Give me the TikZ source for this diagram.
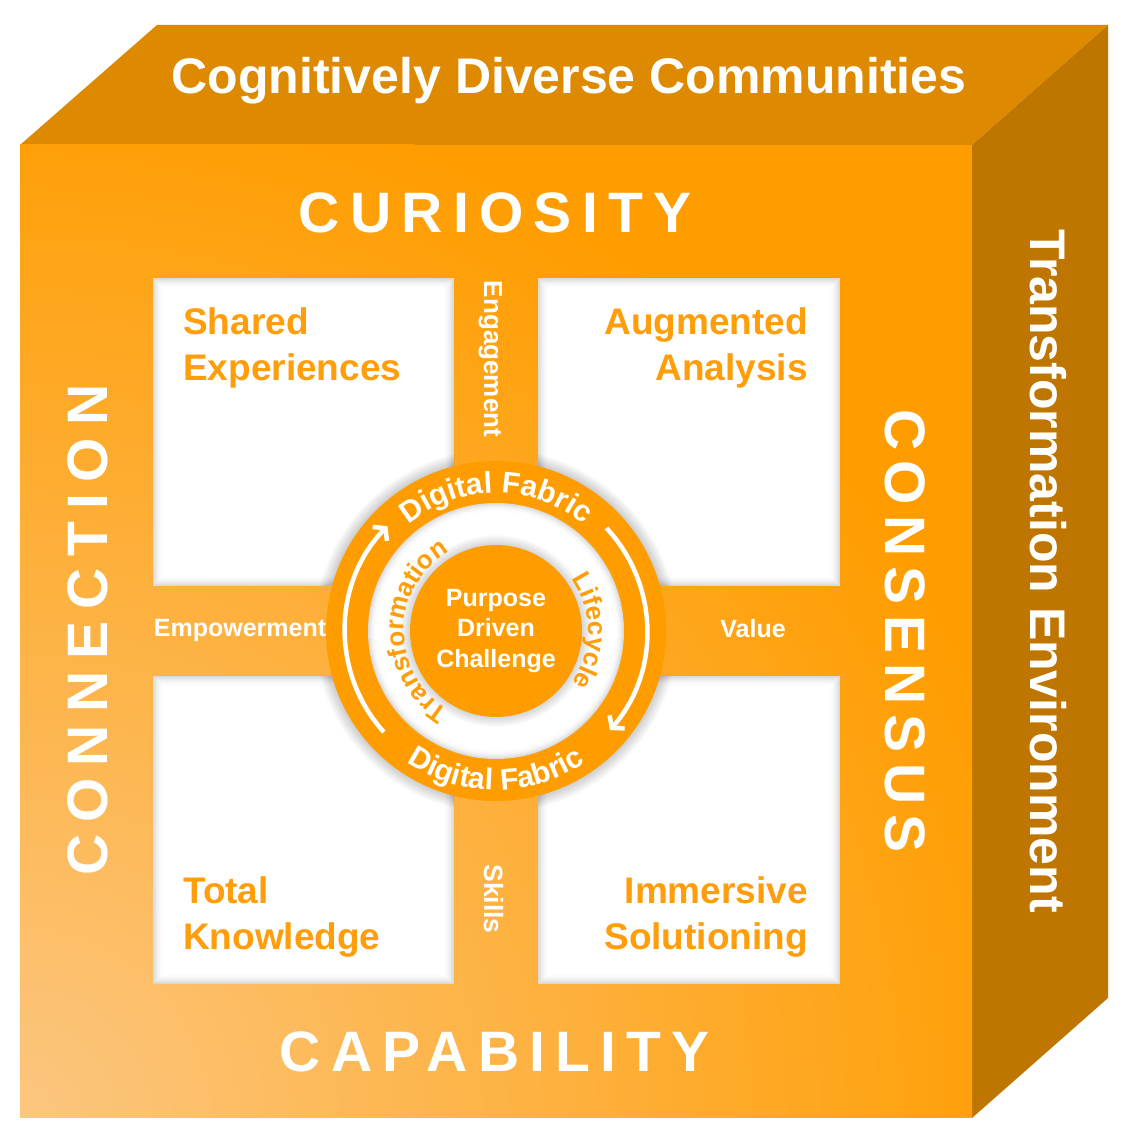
\documentclass[tikz,border=0pt]{standalone}
\usepackage{fontspec}
\setmainfont{Liberation Sans}
\usetikzlibrary{decorations.text,arrows.meta,calc}
\definecolor{orng}{HTML}{FF9D00}
\definecolor{orlight}{HTML}{FCC680}
\definecolor{topc}{HTML}{DE8A00}
\definecolor{sidec}{HTML}{BF7600}
\definecolor{lbl}{HTML}{FF9D0A}
\newcommand\arcfont{\fontsize{30}{33}\selectfont\bfseries}
\newcommand\ringfont{\fontsize{26}{29}\selectfont\bfseries}
\newcommand\softsq[4]{%
  \fill[black!15] (#1,#2) rectangle (#3,#4);
  \foreach \k in {1,...,10}{%
    \pgfmathsetmacro\cc{15*(1-\k/11)^2}%
    \fill[black!\cc] (#1+\k,#2+\k) rectangle (#3-\k,#4-\k);}%
}
\begin{document}
\begin{tikzpicture}[x=1pt,y=1pt,
  sqlabel/.style={text=lbl, font=\fontsize{37}{46}\selectfont\bfseries, inner sep=0pt},
  bigword/.style={text=white, font=\fontsize{57}{60}\selectfont\bfseries\addfontfeature{LetterSpace=18}, inner sep=0pt},
  bandlabel/.style={text=white, font=\fontsize{25}{28}\selectfont\bfseries, inner sep=0pt},
  facelabel/.style={text=white, font=\fontsize{50}{55}\selectfont\bfseries, inner sep=0pt},
  centerlabel/.style={text=white, font=\fontsize{25}{30.5}\selectfont\bfseries, inner sep=0pt, align=center},
  cycarrow/.style={white, line width=4.5pt, -{Straight Barb[length=8pt,width=20pt,line width=4.5pt]}},
  arctext/.style={decorate, decoration={text along path, text align=center, text={#1}}},
]
\useasboundingbox (0,0) rectangle (1128,1137);
\fill[white] (0,0) rectangle (1128,1137);

% cube faces
\fill[topc] (20,992) -- (157,1112) -- (1108,1112) -- (972,992) -- cycle;
\fill[sidec] (972,992) -- (1108,1112) -- (1108,139) -- (972,19) -- cycle;
\begin{scope}
  \clip (20,19) rectangle (972,992);
  \fill[orng] (20,19) rectangle (972,992);
  \shade[inner color=orlight, outer color=orng] (20,19) circle (1050pt);
\end{scope}

% white squares with inner shadow
\softsq{153}{551}{454}{859}
\softsq{538}{551}{840}{859}
\softsq{153}{153}{454}{461}
\softsq{538}{153}{840}{461}

\coordinate (C) at (496,506);

% soft halo of the ring on the squares
\begin{scope}
  \clip (153,551) rectangle (454,859) (538,551) rectangle (840,859)
        (153,153) rectangle (454,461) (538,153) rectangle (840,461);
  \foreach \k in {12,...,1}{\pgfmathsetmacro\rr{170+\k}\fill[black, fill opacity=0.014] (C) circle (\rr pt);}
\end{scope}

% ring
\fill[orng] (C) circle (170pt);
\foreach \k in {0,...,8}{%
  \pgfmathsetmacro\cc{14*(1-\k/9)^2}%
  \pgfmathsetmacro\rr{128-\k}%
  \fill[black!\cc] (C) circle (\rr pt);}
\fill[white] (C) circle (119pt);
\foreach \k in {10,...,1}{\pgfmathsetmacro\rr{86+\k}\fill[black, fill opacity=0.015] (C) circle (\rr pt);}
\fill[orng] (C) circle (86pt);

% cycle arrows
\draw[cycarrow] ($(C)+(222:151pt)$) arc[start angle=222, end angle=136, radius=151pt];
\draw[cycarrow] ($(C)+(43:151pt)$) arc[start angle=43, end angle=-41, radius=151pt];

% texts along the rings
\path[arctext={|\arcfont\color{white}|Digital Fabric}]
  ($(C)+(150:138pt)$) arc[start angle=150, end angle=30, radius=138pt];
\path[arctext={|\arcfont\color{white}|Digital Fabric}]
  ($(C)+(205:159pt)$) arc[start angle=205, end angle=335, radius=159pt];
\path[arctext={|\ringfont\color{lbl}|Transformation}]
  ($(C)+(255:92pt)$) arc[start angle=255, end angle=105, radius=92pt];
\path[arctext={|\ringfont\color{lbl}|Lifecycle}]
  ($(C)+(50:92pt)$) arc[start angle=50, end angle=-50, radius=92pt];

% centre
\node[centerlabel] (pdc) at (C) {Purpose\\Driven\\Challenge};

% square labels (anchor on the baseline of the last line)
\node[sqlabel, align=left, anchor=base west] (shared) at (183,756) {Shared\\Experiences};
\node[sqlabel, align=right, anchor=base east] (augm) at (808,756) {Augmented\\Analysis};
\node[sqlabel, align=left, anchor=base west] (total) at (183,187) {Total\\Knowledge};
\node[sqlabel, align=right, anchor=base east] (immer) at (808,187) {Immersive\\Solutioning};

% band labels
\node[bandlabel, font=\fontsize{26}{28}\selectfont\bfseries, rotate=-90, anchor=base] (engage) at (484,778) {Engagement};
\node[bandlabel, font=\fontsize{26.5}{28}\selectfont\bfseries, rotate=-90, anchor=base] (skills) at (484,238) {Skills};
\node[bandlabel, anchor=base] (empower) at (240,500) {Empowerment};
\node[bandlabel, anchor=base] (value) at (753,499) {Value};

% big words
\node[bigword, anchor=base] (curio) at (495,904) {CURIOSITY};
\node[bigword, anchor=base] (capab) at (495,65) {CAPABILITY};
\node[bigword, font=\fontsize{57}{60}\selectfont\bfseries\addfontfeature{LetterSpace=21}, rotate=90, anchor=base] (conn) at (107,507) {CONNECTION};
\node[bigword, rotate=-90, anchor=base] (cons) at (885,506) {CONSENSUS};

% face labels
\node[facelabel, anchor=base] (title) at (569,1043) {Cognitively Diverse Communities};
\node[facelabel, rotate=-90, anchor=base] (env) at (1030,566) {Transformation Environment};
\end{tikzpicture}
\end{document}
